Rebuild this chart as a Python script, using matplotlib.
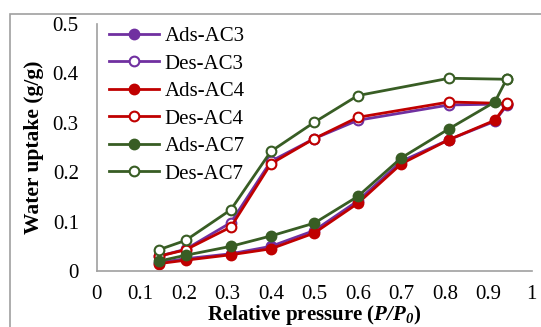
import matplotlib
matplotlib.use('Agg')
import matplotlib.pyplot as plt
from matplotlib.patches import Rectangle

plt.rcParams['font.family'] = ['Liberation Serif', 'DejaVu Serif']
plt.rcParams['mathtext.fontset'] = 'custom'
plt.rcParams['mathtext.rm'] = 'Liberation Serif'
plt.rcParams['mathtext.it'] = 'Liberation Serif:italic'
plt.rcParams['mathtext.bf'] = 'Liberation Serif:bold'
plt.rcParams['mathtext.bfit'] = 'Liberation Serif:bold:italic'

# relative pressure P/P0
p = [0.142, 0.204, 0.308, 0.40, 0.50, 0.60, 0.70, 0.81, 0.915, 0.942]
p_des = [0.142, 0.204, 0.308, 0.40, 0.50, 0.60, 0.81, 0.942]

ads_ac3 = [0.017, 0.025, 0.035, 0.050, 0.082, 0.142, 0.222, 0.266, 0.303, 0.335]
des_ac3 = [0.030, 0.044, 0.098, 0.222, 0.268, 0.305, 0.336, 0.338]
ads_ac4 = [0.015, 0.022, 0.033, 0.045, 0.077, 0.137, 0.217, 0.266, 0.305, 0.337]
des_ac4 = [0.030, 0.043, 0.089, 0.217, 0.268, 0.311, 0.342, 0.339]
ads_ac7 = [0.020, 0.032, 0.050, 0.071, 0.097, 0.151, 0.229, 0.288, 0.342, 0.388]
des_ac7 = [0.043, 0.062, 0.124, 0.242, 0.301, 0.355, 0.390, 0.388]

purple = '#7030A0'
red = '#C00000'
green = '#385D24'

fig = plt.figure(figsize=(5.41, 3.27), dpi=100)
ax = fig.add_axes([0.179, 0.171, 0.804, 0.756])

series = [
    ('Ads-AC3', p, ads_ac3, purple, True),
    ('Des-AC3', p_des, des_ac3, purple, False),
    ('Ads-AC4', p, ads_ac4, red, True),
    ('Des-AC4', p_des, des_ac4, red, False),
    ('Ads-AC7', p, ads_ac7, green, True),
    ('Des-AC7', p_des, des_ac7, green, False),
]
for name, xs, ys, c, filled in series:
    ax.plot(xs, ys, color=c, lw=2, marker='o', ms=7, mew=1.5,
            mfc=c if filled else 'white', mec=c, label=name)

ax.set_xlim(0, 1)
ax.set_ylim(0, 0.5)
ax.set_xticks([0, 0.1, 0.2, 0.3, 0.4, 0.5, 0.6, 0.7, 0.8, 0.9, 1])
ax.set_xticklabels(['0', '0.1', '0.2', '0.3', '0.4', '0.5', '0.6', '0.7', '0.8', '0.9', '1'])
ax.set_yticks([0, 0.1, 0.2, 0.3, 0.4, 0.5])
ax.set_yticklabels(['0', '0.1', '0.2', '0.3', '0.4', '0.5'])
ax.tick_params(length=0, labelsize=15)
ax.tick_params(axis='y', pad=13)
ax.tick_params(axis='x', pad=10)
for s in ['top', 'right']:
    ax.spines[s].set_visible(False)
for s in ['left', 'bottom']:
    ax.spines[s].set_color('#A0A0A0')
    ax.spines[s].set_linewidth(1.2)

ax.set_xlabel(r'Relative pressure ($\mathbfit{P/P_0}$)', fontsize=15,
              fontweight='bold', labelpad=-1)
ax.set_ylabel('Water uptake (g/g)', fontsize=15.5, fontweight='bold', labelpad=6)

leg = ax.legend(loc='upper left', bbox_to_anchor=(0.0, 1.04), frameon=False,
                fontsize=15, handlelength=2.4, handletextpad=0.25,
                labelspacing=0.38, borderaxespad=0.2)

fig.patches.append(Rectangle((10 / 541, -0.1), 1.2, 1 - 14 / 327 + 0.1,
                             transform=fig.transFigure, fill=False,
                             edgecolor='#A0A0A0', lw=1.2))

fig.savefig('out.png', dpi=100)
